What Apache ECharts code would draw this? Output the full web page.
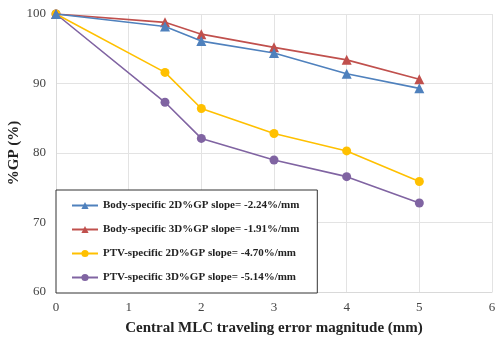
<!DOCTYPE html>
<html><head><meta charset="utf-8">
<script src="https://cdn.jsdelivr.net/npm/echarts@6/dist/echarts.min.js"></script>
<style>html,body{margin:0;padding:0;background:#fff}#c{width:496px;height:339px}</style>
</head><body><div id="c"></div>
<script>
const xValues = [0, 1.5, 2, 3, 4, 5];
const seriesNames = [
  'Body-specific 2D%GP slope= -2.24%/mm',
  'Body-specific 3D%GP slope= -1.91%/mm',
  'PTV-specific 2D%GP slope= -4.70%/mm',
  'PTV-specific 3D%GP slope= -5.14%/mm'
];
const body2D = [100, 98.2, 96.1, 94.4, 91.4, 89.3];
const body3D = [100, 98.8, 97.1, 95.2, 93.4, 90.6];
const ptv2D = [100, 91.6, 86.4, 82.8, 80.3, 75.9];
const ptv3D = [100, 87.3, 82.1, 79.0, 76.6, 72.8];
const colors = ['#4F81BD', '#C0504D', '#FFC000', '#8064A2'];
const symbols = ['triangle', 'triangle', 'circle', 'circle'];
const allData = [body2D, body3D, ptv2D, ptv3D];

const chart = echarts.init(document.getElementById('c'));
const font = '"Liberation Serif", "Times New Roman", serif';
chart.setOption({
  animation: false,
  grid: {left: 56, right: 4, top: 14, bottom: 47, containLabel: false, outerBoundsMode: 'none'},
  xAxis: {
    type: 'value', min: 0, max: 6, interval: 1,
    name: 'Central MLC traveling error magnitude (mm)',
    nameLocation: 'middle', nameGap: 29, nameMoveOverlap: false,
    nameTextStyle: {fontFamily: font, fontWeight: 'bold', fontSize: 15, color: '#222'},
    axisLine: {show: true, lineStyle: {color: '#d9d9d9'}},
    axisTick: {show: false},
    axisLabel: {fontFamily: font, fontSize: 13, color: '#444', margin: 9},
    splitLine: {show: true, lineStyle: {color: '#e3e3e3'}}
  },
  yAxis: {
    type: 'value', min: 60, max: 100, interval: 10,
    name: '%GP (%)', nameLocation: 'middle', nameGap: 34, nameMoveOverlap: false,
    nameTextStyle: {fontFamily: font, fontWeight: 'bold', fontSize: 15, color: '#222'},
    axisLine: {show: true, lineStyle: {color: '#d9d9d9'}},
    axisTick: {show: false},
    axisLabel: {fontFamily: font, fontSize: 13, color: '#444', margin: 10},
    splitLine: {show: true, lineStyle: {color: '#e3e3e3'}}
  },
  legend: {
    orient: 'vertical', left: 56, top: 190,
    backgroundColor: '#fff', borderColor: '#333', borderWidth: 1,
    padding: [10, 18, 10, 15], itemGap: 13, itemWidth: 26, itemHeight: 9,
    textStyle: {fontFamily: font, fontWeight: 'bold', fontSize: 11, color: '#222'},
    data: seriesNames
  },
  series: seriesNames.map((n, i) => ({
    name: n, type: 'line',
    data: xValues.map((x, j) => [x, allData[i][j]]),
    symbol: symbols[i], symbolSize: symbols[i] === 'triangle' ? 10 : 9,
    lineStyle: {color: colors[i], width: 1.6},
    itemStyle: {color: colors[i]},
    z: 3 - i + 2
  }))
});
</script></body></html>
